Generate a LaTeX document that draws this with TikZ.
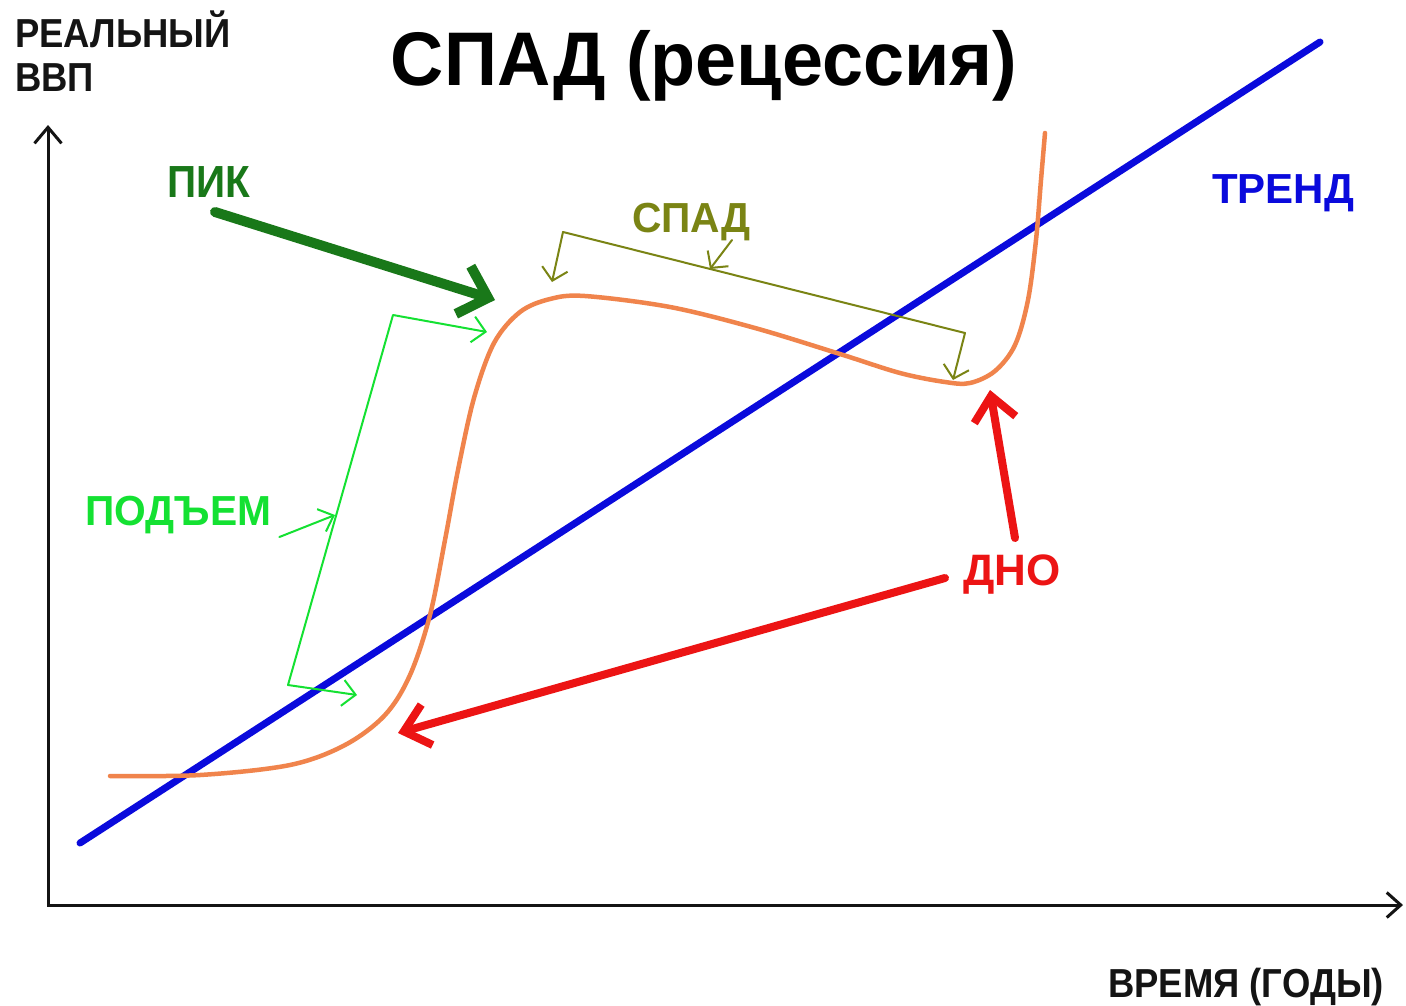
\documentclass[tikz,border=0pt]{standalone}
\usepackage{fontspec}
\setmainfont{Liberation Sans}
\newfontfamily\narrowA[FakeStretch=0.90]{Liberation Sans}
\newfontfamily\narrowB[FakeStretch=0.97]{Liberation Sans}
\usetikzlibrary{arrows.meta}
\definecolor{curveorange}{RGB}{240,132,76}
\definecolor{trendblue}{RGB}{10,10,220}
\definecolor{pikgreen}{RGB}{25,120,25}
\definecolor{risegreen}{RGB}{20,225,50}
\definecolor{fallolive}{RGB}{122,132,20}
\definecolor{bottomred}{RGB}{236,20,20}
\definecolor{axisgray}{RGB}{20,20,20}
\begin{document}
\begin{tikzpicture}[x=1pt,y=-1pt,
  lbl/.style={inner sep=0pt, anchor=base west, font=\bfseries},
  axisline/.style={draw=axisgray, line width=3pt, {Straight Barb[length=16pt,width=27pt]}-{Straight Barb[length=14pt,width=25pt]}},
  thinbarb/.style={line width=2pt, line cap=round, line join=round},
  thickbarb/.style={line cap=round, line join=round},
]
\useasboundingbox (0,0) rectangle (1406,1005);
\fill[white] (0,0) rectangle (1406,1005);

% texts
\node[lbl, font=\narrowB\fontsize{76}{80}\selectfont\bfseries, anchor=base] (title) at (704,85) {СПАД (рецессия)};
\node[lbl, font=\narrowA\fontsize{40.5}{44}\selectfont\bfseries, text=axisgray] (ylab1) at (15,47) {РЕАЛЬНЫЙ};
\node[lbl, font=\narrowA\fontsize{40.5}{44}\selectfont\bfseries, text=axisgray] (ylab2) at (15,91) {ВВП};
\node[lbl, font=\narrowA\fontsize{40.5}{44}\selectfont\bfseries, text=axisgray, anchor=base east] (xlab) at (1384,997) {ВРЕМЯ (ГОДЫ)};
\node[lbl, font=\narrowA\fontsize{45}{48}\selectfont\bfseries, text=pikgreen] (pik) at (167,197) {ПИК};
\node[lbl, font=\narrowB\fontsize{42}{44}\selectfont\bfseries, text=fallolive] (spad) at (632,232) {СПАД};
\node[lbl, font=\fontsize{42}{44}\selectfont\bfseries, text=trendblue] (trend) at (1212,203) {ТРЕНД};
\node[lbl, font=\narrowB\fontsize{42}{44}\selectfont\bfseries, text=risegreen] (podem) at (85,525) {ПОДЪЕМ};
\node[lbl, font=\fontsize{44}{46}\selectfont\bfseries, text=bottomred] (dno) at (963,585) {ДНО};

% axes
\coordinate (yTop) at (48,125);
\coordinate (origin) at (48,905);
\coordinate (xEnd) at (1403,905);
\draw[axisline] (yTop) -- (origin) -- (xEnd);

% trend line
\coordinate (trendS) at (80,843);
\coordinate (trendE) at (1320,42);
\draw[trendblue, line width=7pt, line cap=round] (trendS) -- (trendE);

% business cycle curve
\draw[curveorange, line width=4.5pt, line cap=round] plot[smooth, tension=0.55] coordinates {
 (110,776) (200,775) (290,765) (345,745) (385,715) (410,675) (430,615)
 (445,540) (458,470) (474,398) (494,343) (520,312) (550,299) (585,296) (670,307)
 (755,328) (840,354) (900,373) (945,382) (970,383) (995,371) (1015,345)
 (1028,300) (1036,240) (1041,180) (1045,133)};

% ПИК arrow
\coordinate (pikS) at (215,212);
\coordinate (pikT) at (495,300);
\draw[pikgreen, line width=10pt, thickbarb, -{Straight Barb[length=26pt,width=50pt]}] (pikS) -- (pikT);

% ПОДЪЕМ bracket
\coordinate (gTopTip) at (487,332);
\coordinate (gTop) at (393,315);
\coordinate (gBot) at (288,685);
\coordinate (gBotTip) at (357,695);
\coordinate (gMid) at (335,515);
\draw[risegreen, thinbarb, {Straight Barb[length=13pt,width=26pt]}-{Straight Barb[length=13pt,width=26pt]}] (gTopTip) -- (gTop) -- (gBot) -- (gBotTip);
\draw[risegreen, thinbarb, -{Straight Barb[length=13pt,width=24pt]}] ([xshift=8pt,yshift=-12pt]podem.base east) -- (gMid);

% СПАД bracket
\coordinate (oLtip) at (552,282);
\coordinate (oL) at (563,232);
\coordinate (oR) at (965,333);
\coordinate (oRtip) at (953,380);
\coordinate (oMidS) at (732,240);
\coordinate (oMid) at (710,269);
\draw[fallolive, thinbarb, {Straight Barb[length=12pt,width=26pt]}-{Straight Barb[length=12pt,width=26pt]}] (oLtip) -- (oL) -- (oR) -- (oRtip);
\draw[fallolive, thinbarb, -{Straight Barb[length=12pt,width=26pt]}] (oMidS) -- (oMid);

% ДНО arrows
\coordinate (dnoS1) at (945,578);
\coordinate (dnoT1) at (398,733);
\coordinate (dnoS2) at (1015,538);
\coordinate (dnoT2) at (990,390);
\draw[bottomred, line width=8pt, thickbarb, -{Straight Barb[length=24pt,width=42pt]}] (dnoS1) -- (dnoT1);
\draw[bottomred, line width=8pt, thickbarb, -{Straight Barb[length=24pt,width=42pt]}] (dnoS2) -- (dnoT2);
\end{tikzpicture}
\end{document}
